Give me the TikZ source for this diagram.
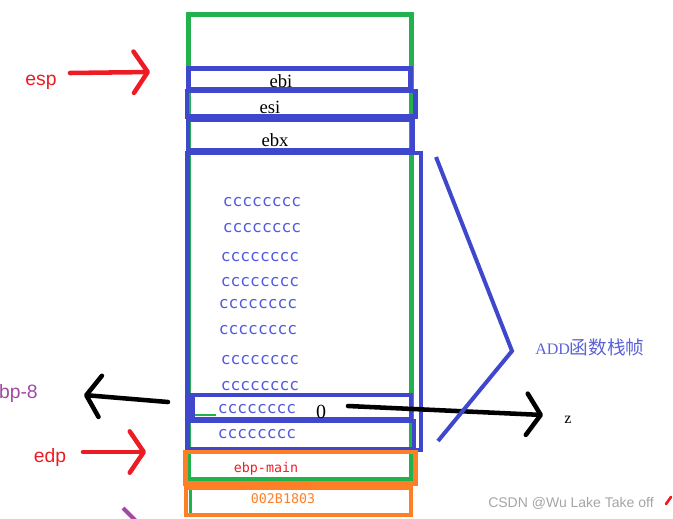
\documentclass[tikz,border=0pt]{standalone}
\usepackage{fontspec}
\setmainfont{Liberation Serif}
\setsansfont{Liberation Sans}
\setmonofont{DejaVu Sans Mono}
\newfontfamily\cjkfont{Noto Sans CJK SC}
\usetikzlibrary{arrows.meta}
\definecolor{paintgreen}{RGB}{34,177,76}
\definecolor{paintblue}{RGB}{63,72,204}
\definecolor{paintorange}{RGB}{255,127,39}
\definecolor{paintred}{RGB}{237,28,36}
\definecolor{paintpurple}{RGB}{163,73,164}
\definecolor{ccblue}{RGB}{82,90,222}
\definecolor{framelabel}{RGB}{92,98,216}
\definecolor{markgray}{RGB}{165,165,165}

\begin{document}
\begin{tikzpicture}[x=0.75pt,y=-0.75pt,
    every node/.style={inner sep=0pt},
    greenbox/.style={draw=paintgreen,line width=3.4pt},
    bluebox/.style={draw=paintblue,line width=3.4pt},
    orangebox/.style={draw=paintorange,line width=3.4pt},
    regtext/.style={anchor=base,font=\fontsize{14}{16}\selectfont},
    filler/.style={anchor=base,text=ccblue,font=\ttfamily\fontsize{12.2}{14}\selectfont},
    slottext/.style={anchor=base,font=\ttfamily\fontsize{10}{12}\selectfont},
    ptrtext/.style={anchor=base,font=\sffamily\fontsize{14.5}{16}\selectfont},
    barb/.style={line width=3.4pt,line cap=round,
                 -{Straight Barb[length=10.5pt,width=31pt,round]}}]
  \useasboundingbox (0,0) rectangle (673,518);
  \clip (0,0) rectangle (673,518);

  % stack outline
  \draw[greenbox] (188.5,14.5) rectangle (411.5,479);
  \draw[draw=paintgreen,line width=2.4pt] (190.5,486) -- (190.5,514);

  % saved registers
  \draw[bluebox] (188.5,68.5) rectangle (410.5,89);
  \draw[bluebox] (187,91) rectangle (415.5,116.5);
  \draw[bluebox] (188,120) rectangle (412.5,150);
  \node[regtext] (ebi) at (281,87) {ebi};
  \node[regtext] (esi) at (270,113) {esi};
  \node[regtext] (ebx) at (275,146) {ebx};

  % ADD frame
  \draw[bluebox] (187.5,153) rectangle (421,450);
  \draw[bluebox] (192.5,395) rectangle (411,419);
  \draw[bluebox] (188,421) rectangle (414,449);
  \node[filler] (c1) at (262,206) {cccccccc};
  \node[filler] (c2) at (262,232) {cccccccc};
  \node[filler] (c3) at (260,261) {cccccccc};
  \node[filler] (c4) at (260,286) {cccccccc};
  \node[filler] (c5) at (258,308) {cccccccc};
  \node[filler] (c6) at (258,334) {cccccccc};
  \node[filler] (c7) at (260,364) {cccccccc};
  \node[filler] (c8) at (260,390) {cccccccc};
  \node[filler] (c9) at (257,413) {cccccccc};
  \node[filler] (c10) at (257,438) {cccccccc};
  \draw[draw=paintgreen,line width=0.8pt] (195,415) -- (216,415);
  \node[anchor=base,font=\fontsize{15}{17}\selectfont] (zval) at (321,418) {0};

  % main frame
  \draw[orangebox] (185.5,452) rectangle (415.5,483.5);
  \draw[orangebox] (186,488) rectangle (411,515);
  \node[slottext,text=paintred] (ebpmain) at (266,472) {ebp-main};
  \node[slottext,text=paintorange] (ret) at (283,503) {002B1803};

  % pointers
  \node[ptrtext,text=paintred] (esp) at (41,85) {esp};
  \node[ptrtext,text=paintred] (edp) at (50,462) {edp};
  \node[ptrtext,anchor=base east,text=paintpurple] (ebp8) at (38,398) {ebp-8};
  \coordinate (espTail) at (70,73);
  \coordinate (espTip) at (150,72);
  \coordinate (edpTail) at (83,452);
  \coordinate (edpTip) at (146,452);
  \coordinate (leftTail) at (168,402);
  \coordinate (leftTip) at (84,395);
  \coordinate (zTail) at (348,406);
  \coordinate (zTip) at (543,415);
  \draw[barb,paintred] (espTail) -- (espTip);
  \draw[barb,paintred] (edpTail) -- (edpTip);
  \draw[barb] (leftTail) -- (leftTip);
  \draw[barb] (zTail) -- (zTip);
  \node[anchor=base,font=\fontsize{12}{14}\selectfont] (z) at (568,423) {z};

  % brace for the frame
  \coordinate (braceTop) at (436,157);
  \coordinate (braceMid) at (512,351);
  \coordinate (braceBot) at (438,441);
  \draw[paintblue,line width=3pt,line join=miter] (braceTop) -- (braceMid) -- (braceBot);
  \node[anchor=base west,text=framelabel] (frame) at (535,354)
       {\fontsize{12}{14}\selectfont ADD{\cjkfont\fontsize{14}{16}\selectfont 函数栈帧}};

  \coordinate (stubA) at (123,508);
  \coordinate (stubB) at (136,521);
  \draw[paintpurple,line width=3pt] (stubA) -- (stubB);

  \node[anchor=base west,text=markgray,font=\sffamily\fontsize{10.5}{12}\selectfont]
       (mark) at (488,507) {CSDN @Wu Lake Take off};
  \coordinate (tickA) at (666,504);
  \coordinate (tickB) at (671,497);
  \draw[paintred,line width=2pt,line cap=round] (tickA) -- (tickB);
\end{tikzpicture}
\end{document}
